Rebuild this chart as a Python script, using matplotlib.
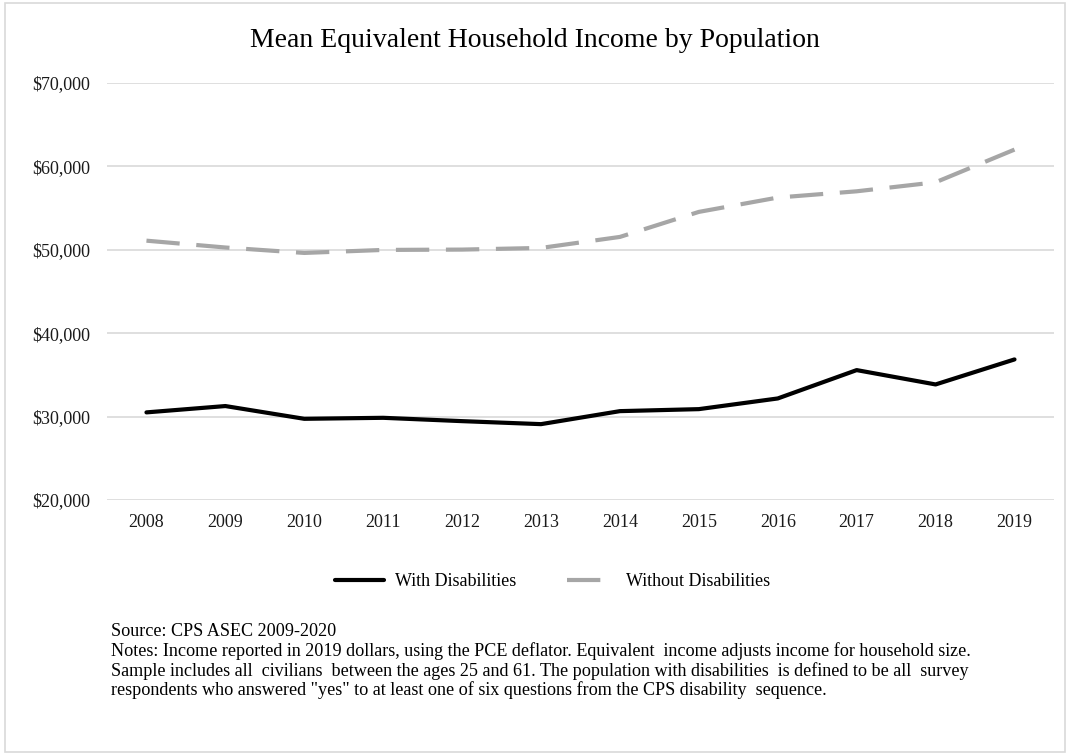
import matplotlib
matplotlib.use("Agg")
import matplotlib.pyplot as plt
from matplotlib.patches import Rectangle
from matplotlib.ticker import FuncFormatter

plt.rcParams['font.family'] = ['Liberation Serif', 'DejaVu Serif']

years = [2008, 2009, 2010, 2011, 2012, 2013, 2014, 2015, 2016, 2017, 2018, 2019]
with_dis = [30510, 31270, 29740, 29860, 29460, 29100, 30660, 30900, 32180, 35580, 33860, 36860]
without_dis = [51100, 50280, 49630, 49990, 50030, 50230, 51550, 54550, 56270, 57020, 58100, 62020]

title = "Mean Equivalent Household Income by Population"
source_lines = [
    "Source: CPS ASEC 2009-2020",
    "Notes: Income reported in 2019 dollars, using the PCE deflator. Equivalent  income adjusts income for household size.",
    "Sample includes all  civilians  between the ages 25 and 61. The population with disabilities  is defined to be all  survey",
    "respondents who answered \"yes\" to at least one of six questions from the CPS disability  sequence.",
]

fig = plt.figure(figsize=(10.7, 7.55), dpi=100)
ax = fig.add_axes([0.1, 0.3377, 0.885, 0.5523])

x = list(range(len(years)))
ax.plot(x, with_dis, color='black', lw=3, label='With Disabilities', solid_capstyle='round')
ax.plot(x, without_dis, color='#a6a6a6', lw=3, dashes=(8, 4), label='Without Disabilities')

ax.set_xlim(-0.5, len(years) - 0.5)
ax.set_ylim(20000, 70000)
ax.set_yticks(range(20000, 70001, 10000))
ax.yaxis.set_major_formatter(FuncFormatter(lambda v, p: '${:,.0f}'.format(v)))
ax.set_xticks(x)
ax.set_xticklabels([str(y) for y in years])
ax.grid(axis='y', color='#d9d9d9', lw=1.2)
ax.set_axisbelow(True)
for s in ax.spines.values():
    s.set_visible(False)
ax.tick_params(axis='both', length=0, labelsize=13, colors='#1a1a1a')
ax.tick_params(axis='y', pad=12)
ax.tick_params(axis='x', pad=10)

fig.text(0.5, 0.946, title, ha='center', va='center', fontsize=20)

fig.legend(loc='center', bbox_to_anchor=(553 / 1070, 1 - 582 / 755), ncol=2,
           frameon=False, fontsize=13, handlelength=2.7, handletextpad=0.6,
           columnspacing=2.8)

ys = [632, 651, 671, 690]
for line, yy in zip(source_lines, ys):
    fig.text(111 / 1070, 1 - yy / 755, line, ha='left', va='center', fontsize=13.1)

fig.patches.append(Rectangle((0.005, 0.004), 0.99, 0.992, transform=fig.transFigure,
                             fill=False, edgecolor='#d9d9d9', lw=1.2))

fig.savefig('out.png', dpi=100)
